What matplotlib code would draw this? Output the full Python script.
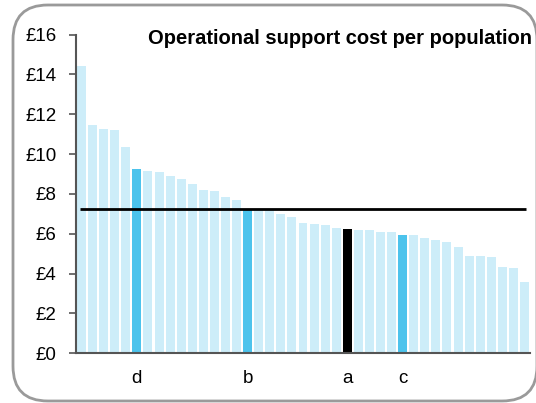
import matplotlib.pyplot as plt
from matplotlib.patches import FancyBboxPatch
from matplotlib.ticker import FuncFormatter

# Operational support cost per head of population, sorted high to low
costs = [
    14.40, 11.45, 11.25, 11.22, 10.37, 9.23, 9.15, 9.10, 8.90, 8.76,
    8.49, 8.18, 8.13, 7.86, 7.68, 7.25, 7.22, 7.17, 6.99, 6.84,
    6.54, 6.47, 6.44, 6.30, 6.24, 6.20, 6.17, 6.10, 6.09, 5.94,
    5.92, 5.79, 5.69, 5.59, 5.33, 4.90, 4.88, 4.83, 4.33, 4.26,
    3.56,
]
# labelled organisations: (bar index, label, colour)
highlights = [(5, "d", "#4cc3ec"), (15, "b", "#4cc3ec"),
              (24, "a", "#000000"), (29, "c", "#4cc3ec")]
average = 7.25

plt.rcParams["font.family"] = ["Liberation Sans", "DejaVu Sans"]

W, H = 536, 403
fig = plt.figure(figsize=(W / 100, H / 100), dpi=100)
ax = fig.add_axes([76 / W, 1 - 353.3 / H, 454 / W, (353.3 - 34.5) / H])

colors = ["#cdedf9"] * len(costs)
for idx, _, col in highlights:
    colors[idx] = col
x = range(len(costs))
ax.bar(x, costs, width=0.81, color=colors, zorder=2)

ax.plot([-0.1, len(costs) - 0.9], [average, average], color="black",
        lw=2, solid_capstyle="butt", zorder=3)

ax.set_xlim(-0.5, len(costs) - 0.5)
ax.set_ylim(0, 16)
ax.set_yticks(range(0, 17, 2))
ax.yaxis.set_major_formatter(FuncFormatter(lambda v, _: f"£{v:.0f}"))
ax.set_xticks([h[0] for h in highlights])
ax.set_xticklabels([h[1] for h in highlights])

for side in ("top", "right"):
    ax.spines[side].set_visible(False)
for side in ("left", "bottom"):
    ax.spines[side].set_color("#555555")
    ax.spines[side].set_linewidth(1.5)
ax.tick_params(axis="y", direction="out", length=5, width=1.2,
               color="#555555", labelsize=13.5, pad=9)
ax.tick_params(axis="x", length=0, labelsize=13.5, pad=12)

fig.text(532 / W, 1 - 29 / H, "Operational support cost per population",
         ha="right", va="top", fontsize=14.5, fontweight="bold")

# rounded frame around the whole panel
frame = FancyBboxPatch((13 / W, 2 / H), 524 / W, 396 / H,
                       boxstyle="round,pad=0,rounding_size=0.065",
                       transform=fig.transFigure, fill=False,
                       edgecolor="#9a9a9a", lw=2, clip_on=False,
                       mutation_aspect=W / H)
fig.patches.append(frame)

fig.savefig("out.png", dpi=100)
